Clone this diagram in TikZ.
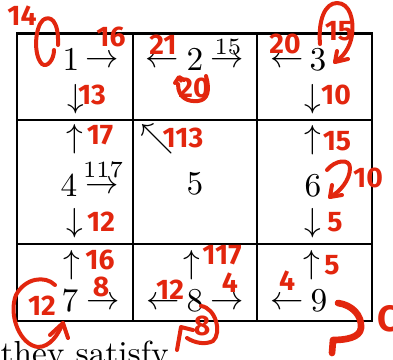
\documentclass[tikz,border=0pt]{standalone}
\usepackage{fontspec}
\newfontfamily\penfont{Fira Sans}
\definecolor{penred}{RGB}{226,38,14}

\begin{document}
\begin{tikzpicture}[x=0.3pt, y=-0.3pt,
  cellline/.style={draw=black, line width=0.8pt},
  glyph/.style={inner sep=0pt},
  over/.style={inner sep=0pt, font=\scriptsize},
  pen/.style={draw=penred, line width=1.2pt, line cap=round, line join=round},
  ink/.style={inner sep=0pt, text=penred, font=\penfont\bfseries\fontsize{8.5}{8.5}\selectfont},
]
  \useasboundingbox (0,0) rectangle (393,359);
  \clip (0,0) rectangle (393,359);
  % grid
  \draw[cellline] (17,33.5) rectangle (372,321);
  \draw[cellline] (133,33.5) -- (133,321);
  \draw[cellline] (257,33.5) -- (257,321);
  \draw[cellline] (17,120) -- (372,120);
  \draw[cellline] (17,244) -- (372,244);
  % top row
  \node[glyph] (n1) at (71,60) {$1$};
  \node[glyph] (r1) at (102,61) {$\rightarrow$};
  \node[glyph] (d1) at (76,99) {$\downarrow$};
  \node[glyph] (l2) at (162,61) {$\leftarrow$};
  \node[glyph] (n2) at (195,60) {$2$};
  \node[glyph] (r2) at (227,61) {$\rightarrow$};
  \node[over] (w2) at (228,47) {$15$};
  \node[glyph] (l3) at (287,61) {$\leftarrow$};
  \node[glyph] (n3) at (318,60) {$3$};
  \node[glyph] (d3) at (313,99) {$\downarrow$};
  % middle row
  \node[glyph] (u4) at (75,139) {$\uparrow$};
  \node[glyph] (n4) at (69,186) {$4$};
  \node[glyph] (r4) at (102,187) {$\rightarrow$};
  \node[over] (w4) at (103,170) {$117$};
  \node[glyph] (d4) at (75,223) {$\downarrow$};
  \node[glyph] (q5) at (157,139) {$\nwarrow$};
  \node[glyph] (n5) at (195,184) {$5$};
  \node[glyph] (u6) at (313,140) {$\uparrow$};
  \node[glyph] (n6) at (313,186) {$6$};
  \node[glyph] (d6) at (313,223) {$\downarrow$};
  % bottom row
  \node[glyph] (u7) at (72,265) {$\uparrow$};
  \node[glyph] (n7) at (70,301) {$7$};
  \node[glyph] (r7) at (103,303) {$\rightarrow$};
  \node[glyph] (u8) at (192,265) {$\uparrow$};
  \node[glyph] (l8) at (163,303) {$\leftarrow$};
  \node[glyph] (n8) at (195,301) {$8$};
  \node[glyph] (r8) at (227,303) {$\rightarrow$};
  \node[glyph] (u9) at (312,265) {$\uparrow$};
  \node[glyph] (l9) at (287,303) {$\leftarrow$};
  \node[glyph] (n9) at (319,301) {$9$};
  \node[anchor=base west, inner sep=0pt] (txt) at (0,364) {they satisfy};
  % red pen marks
  \node[ink] (m1a) at (22,16) {14};
  \node[ink] (m1b) at (111,37) {16};
  \node[ink] (m1c) at (92,95) {13};
  \node[ink] (m2a) at (163,45) {21};
  \node[ink] (m2b) at (194,88) {20};
  \node[ink] (m3a) at (285,44) {20};
  \node[ink] (m3b) at (339,31) {15};
  \node[ink] (m3c) at (336,95) {10};
  \node[ink] (m4a) at (100,135) {17};
  \node[ink] (m4b) at (101,222) {12};
  \node[ink] (m5a) at (183,138) {113};
  \node[ink] (m6a) at (337,141) {15};
  \node[ink] (m6b) at (368,178) {10};
  \node[ink] (m6c) at (335,222) {5};
  \node[ink] (m7a) at (100,260) {16};
  \node[ink] (m7b) at (101,287) {8};
  \node[ink] (m7c) at (42,306) {12};
  \node[ink] (m8a) at (222,255) {117};
  \node[ink] (m8b) at (170,290) {12};
  \node[ink] (m8c) at (230,283) {4};
  \node[ink] (m8d) at (202,326) {8};
  \node[ink] (m9a) at (287,281) {4};
  \node[ink] (m9b) at (332,265) {5};
  \node[ink, anchor=west, font=\penfont\bfseries\fontsize{11}{11}\selectfont] (m9c) at (377,319) {C};
  \draw[pen] (58,45) .. controls (59,20) and (50,15) .. (43,20) .. controls (35,27) and (33,55) .. (42,64) .. controls (47,68) and (54,60) .. (54,50);
  \draw[pen] (175,83) -- (179,77) -- (184,80);
  \draw[pen] (178,84) .. controls (178,98) and (188,102) .. (198,101) .. controls (208,100) and (210,90) .. (206,76);
  \draw[pen] (320,44) .. controls (318,20) and (325,3) .. (337,3) .. controls (350,3) and (354,20) .. (352,35) .. controls (350,48) and (343,57) .. (335,62);
  \draw[pen] (337,51) -- (335,62) -- (348,59);
  \draw[pen] (327,170) .. controls (335,160) and (350,158) .. (350,168) .. controls (350,180) and (340,192) .. (330,197);
  \draw[pen] (332,185) -- (330,197) -- (342,195);
  \draw[pen] (55,285) .. controls (45,275) and (25,278) .. (16,295) .. controls (8,315) and (20,345) .. (38,347) .. controls (50,347) and (58,335) .. (63,323);
  \draw[pen] (50,335) -- (63,323) -- (68,338);
  \draw[pen] (201,306) .. controls (216,308) and (222,333) .. (213,341) .. controls (205,345) and (195,343) .. (187,338);
  \draw[pen] (177,350) -- (181,327) -- (193,330);
  \draw[pen, line width=2pt] (338,303) .. controls (352,305) and (362,315) .. (361,328) .. controls (360,338) and (345,340) .. (333,340) -- (332,353);
\end{tikzpicture}
\end{document}
